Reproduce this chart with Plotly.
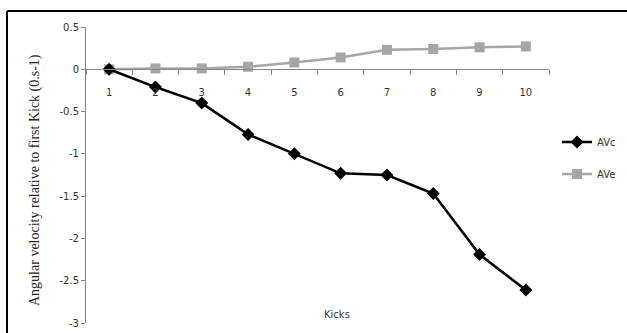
import plotly.graph_objects as go

kicks = ["1", "2", "3", "4", "5", "6", "7", "8", "9", "10"]
avc = [0.0, -0.21, -0.40, -0.77, -1.00, -1.23, -1.25, -1.47, -2.19, -2.61]
ave = [0.0, 0.01, 0.01, 0.03, 0.08, 0.14, 0.23, 0.24, 0.26, 0.27]
y_ticks = [0.5, 0, -0.5, -1, -1.5, -2, -2.5, -3]
y_tick_text = ["0.5", "0", "-0.5", "-1", "-1.5", "-2", "-2.5", "-3"]

W, H = 627, 333
ML, MR, MT, MB = 86, 78, 27, 10
PW = W - ML - MR
PH = H - MT - MB


def px_x(px):
    return (px - ML) / PW


def px_y(py):
    return (H - MB - py) / PH


fig = go.Figure()
fig.add_trace(go.Scatter(
    x=kicks, y=ave, name="AVe", mode="lines+markers",
    line=dict(color="#A6A6A6", width=2.5),
    marker=dict(symbol="square", size=10, color="#A6A6A6"),
    legend="legend2",
))
fig.add_trace(go.Scatter(
    x=kicks, y=avc, name="AVc", mode="lines+markers",
    line=dict(color="#000000", width=2.5),
    marker=dict(symbol="diamond", size=10, color="#000000"),
    legend="legend",
))

fig.update_layout(
    width=W, height=H,
    margin=dict(l=ML, r=MR, t=MT, b=MB, autoexpand=False),
    paper_bgcolor="white", plot_bgcolor="white",
    font=dict(family="DejaVu Sans", size=10, color="#333333"),
    xaxis=dict(
        type="category", range=[-0.5, 9.5],
        anchor="free", position=3.0 / 3.5,
        showline=True, linecolor="#868686", linewidth=1,
        ticks="outside", tickson="boundaries", ticklen=5, tickcolor="#868686",
        showgrid=False, zeroline=False,
        ticklabelstandoff=14,
        tickfont=dict(size=10, color="#333333"),
    ),
    yaxis=dict(
        range=[-3, 0.5], tickvals=y_ticks, ticktext=y_tick_text,
        showline=True, linecolor="#868686", linewidth=1,
        ticks="outside", ticklen=4, tickcolor="#868686",
        showgrid=False, zeroline=False,
        tickfont=dict(size=10, color="#333333"),
    ),
    legend=dict(
        xref="container", yref="container",
        x=557 / W, y=1 - 142 / H, xanchor="left", yanchor="middle",
        bgcolor="rgba(0,0,0,0)", itemwidth=30,
        font=dict(size=10, color="#333333"),
    ),
    legend2=dict(
        xref="container", yref="container",
        x=557 / W, y=1 - 174 / H, xanchor="left", yanchor="middle",
        bgcolor="rgba(0,0,0,0)", itemwidth=30,
        font=dict(size=10, color="#333333"),
    ),
    showlegend=True,
)

fig.add_annotation(
    text="Angular velocity relative to first Kick (0.s-1)",
    xref="paper", yref="paper", x=px_x(35), y=px_y(180),
    xanchor="center", yanchor="middle",
    textangle=-90, showarrow=False,
    font=dict(family="Liberation Serif", size=14, color="#222222"),
)
fig.add_annotation(
    text="Kicks",
    xref="paper", yref="paper", x=px_x(337), y=px_y(314),
    xanchor="center", yanchor="middle",
    showarrow=False,
    font=dict(family="DejaVu Sans", size=10, color="#333333"),
)

# chart area border (top and left edges)
fig.add_shape(type="line", xref="paper", yref="paper",
              x0=px_x(7), y0=px_y(11), x1=px_x(627), y1=px_y(11),
              line=dict(color="#000000", width=2))
fig.add_shape(type="line", xref="paper", yref="paper",
              x0=px_x(7), y0=px_y(11), x1=px_x(7), y1=px_y(333),
              line=dict(color="#000000", width=2))

fig.write_html("out.html", config={"displayModeBar": False},
               post_script="document.body.style.margin='0';")
